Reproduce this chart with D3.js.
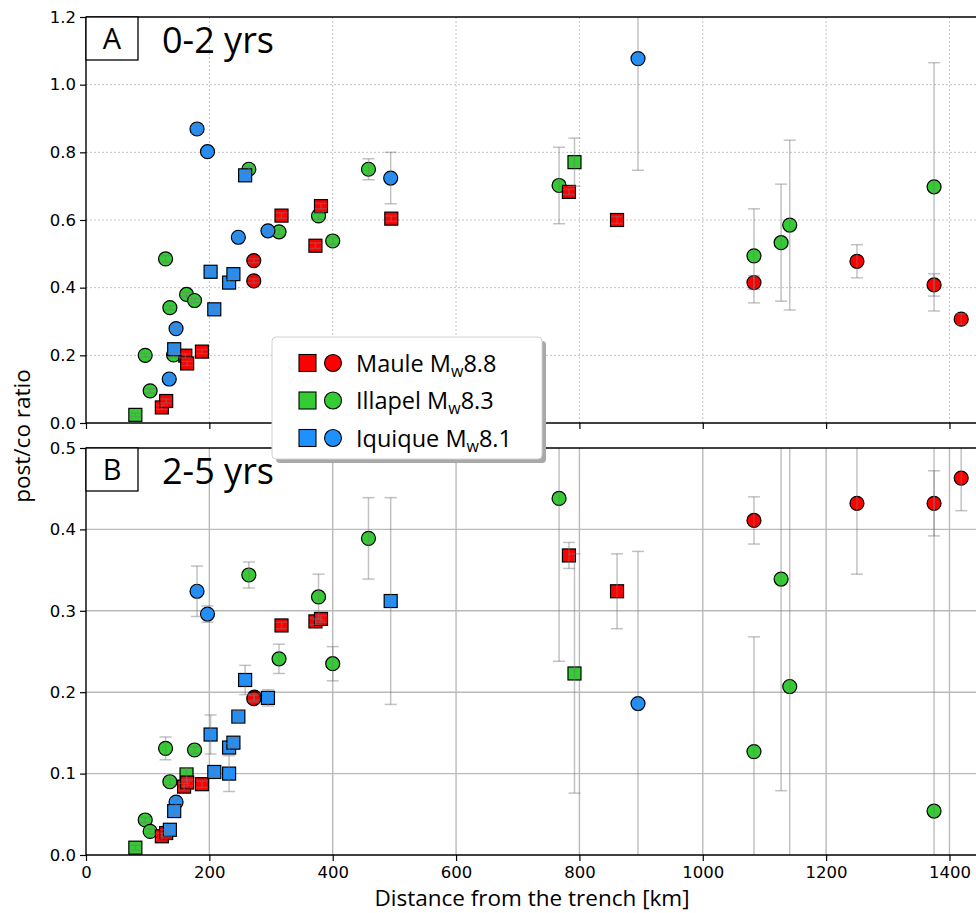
<!DOCTYPE html>
<html>
<head>
<meta charset="utf-8">
<script src="https://cdn.jsdelivr.net/npm/d3@7"></script>
<style>
  body { margin: 0; background: white; }
  svg { display: block; }
  .tick text { font-family: "DejaVu Sans", sans-serif; font-size: 16.5px; fill: black; }
  .domain { display: none; }
</style>
</head>
<body>
<svg id="chart" width="976" height="913"></svg>
<script>
// [distance km, ratio, error]
// Panel A : 0-2 yrs
let mauleSquaresA = [[123,0.046,0.006],[130,0.065,0.006],[161,0.199,0.006],[164,0.176,0.006],[188,0.211,0.006],[317,0.613,0.008],[372,0.524,0.008],[381,0.641,0.008],[495,0.604,0.008],[783,0.683,0.008],[861,0.600,0.01]];
let mauleCirclesA = [[272,0.480,0.006],[272,0.420,0.006],[1083,0.415,0.02],[1250,0.478,0.049],[1375,0.408,0.033],[1419,0.307,0.016]];
let illapelSquaresA = [[80,0.024,0.005],[792,0.771,0.071]];
let illapelCirclesA = [[96,0.200,0.005],[104,0.095,0.006],[129,0.485,0.01],[136,0.341,0.006],[142,0.201,0.006],[163,0.380,0.006],[176,0.362,0.006],[264,0.750,0.008],[313,0.565,0.008],[377,0.612,0.01],[400,0.538,0.01],[458,0.750,0.031],[767,0.702,0.113],[1083,0.494,0.139],[1127,0.533,0.173],[1141,0.585,0.251],[1375,0.698,0.367]];
let iquiqueSquaresA = [[143,0.218,0.008],[202,0.447,0.01],[208,0.336,0.008],[232,0.415,0.008],[239,0.440,0.008],[258,0.732,0.008]];
let iquiqueCirclesA = [[135,0.130,0.006],[146,0.279,0.006],[180,0.869,0.012],[197,0.802,0.006],[247,0.549,0.006],[295,0.568,0.006],[494,0.724,0.076],[895,1.077,0.33]];

// Panel B : 2-5 yrs
let mauleSquaresB = [[123,0.023,0.004],[130,0.027,0.004],[159,0.084,0.004],[164,0.089,0.004],[188,0.087,0.004],[317,0.282,0.004],[372,0.287,0.004],[381,0.290,0.004],[783,0.368,0.016],[861,0.324,0.046]];
let mauleCirclesB = [[273,0.194,0.004],[272,0.192,0.004],[1083,0.411,0.029],[1250,0.432,0.087],[1375,0.432,0.04],[1419,0.463,0.04]];
let illapelSquaresB = [[80,0.009,0.003],[163,0.099,0.008],[792,0.223,0.147]];
let illapelCirclesB = [[96,0.043,0.003],[104,0.029,0.003],[129,0.131,0.014],[136,0.090,0.004],[176,0.129,0.004],[264,0.344,0.016],[313,0.241,0.018],[377,0.317,0.028],[400,0.235,0.021],[458,0.389,0.05],[767,0.438,0.2],[1083,0.127,0.141],[1127,0.339,0.26],[1141,0.207,0.35],[1375,0.054,0.5]];
let iquiqueSquaresB = [[136,0.031,0.004],[143,0.054,0.004],[202,0.148,0.024],[208,0.102,0.005],[232,0.100,0.022],[232,0.132,0.005],[239,0.138,0.005],[247,0.170,0.008],[258,0.215,0.018],[295,0.193,0.01],[494,0.312,0.127]];
let iquiqueCirclesB = [[146,0.065,0.004],[180,0.324,0.031],[197,0.296,0.01],[895,0.186,0.187]];

let xTicks = [0,200,400,600,800,1000,1200,1400];
let yTicksA = [0,0.2,0.4,0.6,0.8,1.0,1.2];
let yTicksB = [0,0.1,0.2,0.3,0.4,0.5];
let legendNames = ["Maule", "Illapel", "Iquique"];
let legendMags = ["8.8", "8.3", "8.1"];
let colors = ["#ff0000", "#33cc33", "#1e90ff"];

let svg = d3.select("#chart");
let left = 86, right = 976;

let x = d3.scaleLinear().domain([0, 1443]).range([left, right]);
let yA = d3.scaleLinear().domain([0, 1.2]).range([423, 17]);
let yB = d3.scaleLinear().domain([0, 0.5]).range([855, 448]);

function drawPanel(id, y, yTicks, dashed, series, letter, label, showXLabels) {
	let top = y.range()[1], bottom = y.range()[0];
	let g = svg.append("g");

	g.append("clipPath").attr("id", "clip" + id)
		.append("rect")
		.attr("x", left).attr("y", top)
		.attr("width", right - left).attr("height", bottom - top);

	// grid
	let grid = g.append("g")
		.attr("stroke", dashed ? "#c4c4c4" : "#bababa")
		.attr("stroke-width", dashed ? 1 : 1.4)
		.attr("stroke-dasharray", dashed ? "2,2" : null);
	grid.selectAll("line.gx").data(xTicks.filter(d => d > 0))
		.enter().append("line")
		.attr("x1", d => x(d)).attr("x2", d => x(d))
		.attr("y1", top).attr("y2", bottom);
	grid.selectAll("line.gy").data(yTicks.filter(d => d > 0 && d < y.domain()[1]))
		.enter().append("line")
		.attr("x1", left).attr("x2", right)
		.attr("y1", d => y(d)).attr("y2", d => y(d));

	// markers
	let plot = g.append("g").attr("clip-path", "url(#clip" + id + ")");
	series.forEach(function(s) {
		if (s.shape == "square") {
			plot.selectAll(null).data(s.data)
				.enter().append("rect")
				.attr("x", d => x(d[0]) - 6.5)
				.attr("y", d => y(d[1]) - 6.5)
				.attr("width", 13).attr("height", 13)
				.attr("fill", s.color)
				.attr("stroke", "black").attr("stroke-width", 1.2);
		} else {
			plot.selectAll(null).data(s.data)
				.enter().append("circle")
				.attr("cx", d => x(d[0]))
				.attr("cy", d => y(d[1]))
				.attr("r", 7)
				.attr("fill", s.color)
				.attr("stroke", "black").attr("stroke-width", 1.2);
		}
	});

	// error bars on top
	let eb = plot.append("g").attr("stroke", "#777").attr("stroke-opacity", 0.45).attr("stroke-width", 1.5);
	series.forEach(function(s) {
		s.data.forEach(function(d) {
			let cx = x(d[0]);
			eb.append("line").attr("x1", cx).attr("x2", cx).attr("y1", y(d[1] - d[2])).attr("y2", y(d[1] + d[2]));
			eb.append("line").attr("x1", cx - 6).attr("x2", cx + 6).attr("y1", y(d[1] - d[2])).attr("y2", y(d[1] - d[2]));
			eb.append("line").attr("x1", cx - 6).attr("x2", cx + 6).attr("y1", y(d[1] + d[2])).attr("y2", y(d[1] + d[2]));
		});
	});

	// axes
	g.append("g")
		.attr("transform", "translate(" + left + ",0)")
		.call(d3.axisLeft(y).tickValues(yTicks).tickFormat(d3.format(".1f")).tickSize(6).tickPadding(4))
		.call(a => a.selectAll(".tick line").attr("stroke", "black").attr("stroke-width", 1.2));
	let xa = g.append("g")
		.attr("transform", "translate(0," + bottom + ")")
		.call(d3.axisBottom(x).tickValues(xTicks).tickFormat(d3.format("d")).tickSize(6).tickPadding(5))
		.call(a => a.selectAll(".tick line").attr("stroke", "black").attr("stroke-width", 1.2));
	if (!showXLabels) xa.selectAll(".tick text").remove();

	// spines
	g.append("line").attr("x1", left).attr("x2", left).attr("y1", top).attr("y2", bottom).attr("stroke", "black").attr("stroke-width", 1.4);
	g.append("line").attr("x1", left).attr("x2", right).attr("y1", top).attr("y2", top).attr("stroke", "black").attr("stroke-width", 1.4);
	g.append("line").attr("x1", left).attr("x2", right).attr("y1", bottom).attr("y2", bottom).attr("stroke", "black").attr("stroke-width", 1.4);

	// panel label
	g.append("rect")
		.attr("x", left).attr("y", top)
		.attr("width", 52).attr("height", 43)
		.attr("fill", "white").attr("stroke", "black").attr("stroke-width", 1.3);
	g.append("text")
		.attr("x", left + 26).attr("y", top + 32)
		.style("text-anchor", "middle")
		.style("font", "29px 'Open Sans'")
		.text(letter);
	g.append("text")
		.attr("x", 162).attr("y", top + 36)
		.style("font", "36px 'Open Sans'")
		.text(label);
}

drawPanel("A", yA, yTicksA, true, [
	{shape: "circle", color: colors[1], data: illapelCirclesA},
	{shape: "square", color: colors[1], data: illapelSquaresA},
	{shape: "circle", color: colors[0], data: mauleCirclesA},
	{shape: "square", color: colors[0], data: mauleSquaresA},
	{shape: "circle", color: colors[2], data: iquiqueCirclesA},
	{shape: "square", color: colors[2], data: iquiqueSquaresA}
], "A", "0-2 yrs", false);

drawPanel("B", yB, yTicksB, false, [
	{shape: "circle", color: colors[1], data: illapelCirclesB},
	{shape: "square", color: colors[1], data: illapelSquaresB},
	{shape: "circle", color: colors[0], data: mauleCirclesB},
	{shape: "square", color: colors[0], data: mauleSquaresB},
	{shape: "circle", color: colors[2], data: iquiqueCirclesB},
	{shape: "square", color: colors[2], data: iquiqueSquaresB}
], "B", "2-5 yrs", true);

// axis labels
svg.append("text")
	.attr("x", 532).attr("y", 906)
	.style("text-anchor", "middle")
	.style("font", "22.5px 'Open Sans'")
	.text("Distance from the trench [km]");

svg.append("text")
	.attr("transform", "translate(30,436) rotate(-90)")
	.style("text-anchor", "middle")
	.style("font", "22.5px 'Open Sans'")
	.text("post/co ratio");

// legend
let lg = svg.append("g").attr("transform", "translate(272,337)");
lg.append("rect").attr("x", 4).attr("y", 4).attr("width", 270).attr("height", 122).attr("rx", 4)
	.attr("fill", "#a8a8a8");
lg.append("rect").attr("width", 270).attr("height", 122).attr("rx", 4)
	.attr("fill", "white").attr("stroke", "#d0d0d0");
legendNames.forEach(function(name, i) {
	let cy = 26 + i * 37.5;
	lg.append("rect").attr("x", 27).attr("y", cy - 8.5).attr("width", 17).attr("height", 17)
		.attr("fill", colors[i]).attr("stroke", "black").attr("stroke-width", 1.1);
	lg.append("circle").attr("cx", 61).attr("cy", cy).attr("r", 8.5)
		.attr("fill", colors[i]).attr("stroke", "black").attr("stroke-width", 1.1);
	let t = lg.append("text").attr("x", 84).attr("y", cy + 8.5)
		.style("font", "23.5px 'Open Sans'");
	t.append("tspan").text(name + " M");
	t.append("tspan").attr("dy", 5).style("font-size", "16px").text("w");
	t.append("tspan").attr("dy", -5).text(legendMags[i]);
});
</script>
</body>
</html>
